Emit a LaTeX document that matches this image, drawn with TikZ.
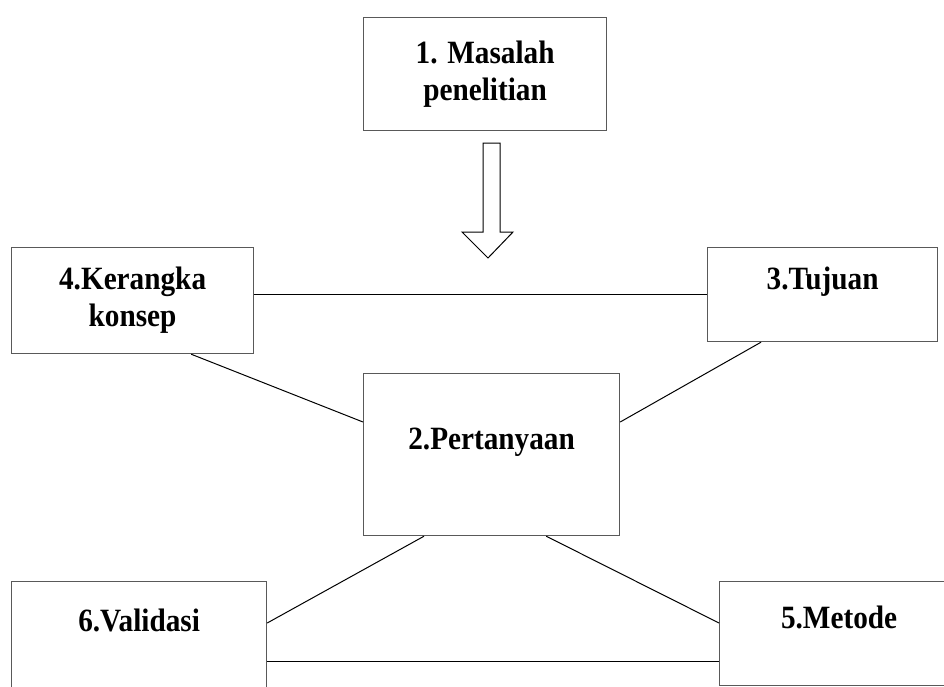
\documentclass[tikz,border=0pt]{standalone}
\usepackage{fontspec}
\setmainfont{Liberation Serif}[FakeStretch=0.9]
\usetikzlibrary{positioning}

\begin{document}
\begin{tikzpicture}[
  x=1pt, y=-1pt,
  every node/.style={font=\bfseries\fontsize{32.5}{37}\selectfont, inner sep=0pt},
  box/.style={draw=black!65, line width=1.2pt, rectangle, anchor=north west, align=center},
  oneline/.style={text height=21.5pt, text depth=31.5pt},
  link/.style={draw, line width=1pt}
]
\useasboundingbox (0,0) rectangle (944,686);
\clip (0,0) rectangle (944,686);
\node[box, minimum width=243pt, minimum height=113pt] (masalah) at (363,17) {1. Masalah\\penelitian};
\node[box, minimum width=242pt, minimum height=106pt] (kerangka) at (11,247) {4.Kerangka\\konsep};
\node[box, oneline, minimum width=230pt, minimum height=94pt] (tujuan) at (707,247) {3.Tujuan};
\node[box, oneline, minimum width=256pt, minimum height=162pt] (pertanyaan) at (363,373) {2.Pertanyaan};
\node[box, oneline, minimum width=255pt, minimum height=110pt] (validasi) at (11,581) {6.Validasi};
\node[box, oneline, minimum width=239pt, minimum height=104pt] (metode) at (719,581) {5.Metode};

\draw[line width=1pt, fill=white] (483,143) -- (500,143) -- (500,232) -- (513,232)
  -- (488,258) -- (462,232) -- (483,232) -- cycle;

\draw[link] (kerangka.east |- tujuan.west) -- (tujuan.west);
\draw[link] ([xshift=-63pt]kerangka.south east) -- ([yshift=-49pt]pertanyaan.north west);
\draw[link] ([xshift=54pt]tujuan.south west) -- ([yshift=-49pt]pertanyaan.north east);
\draw[link] ([xshift=61pt]pertanyaan.south west) -- ([yshift=-42pt]validasi.north east);
\draw[link] ([xshift=-74pt]pertanyaan.south east) -- ([yshift=-42pt]metode.north west);
\draw[link] ([yshift=-80pt]validasi.north east) -- ([yshift=-80pt]metode.north west);
\end{tikzpicture}
\end{document}
